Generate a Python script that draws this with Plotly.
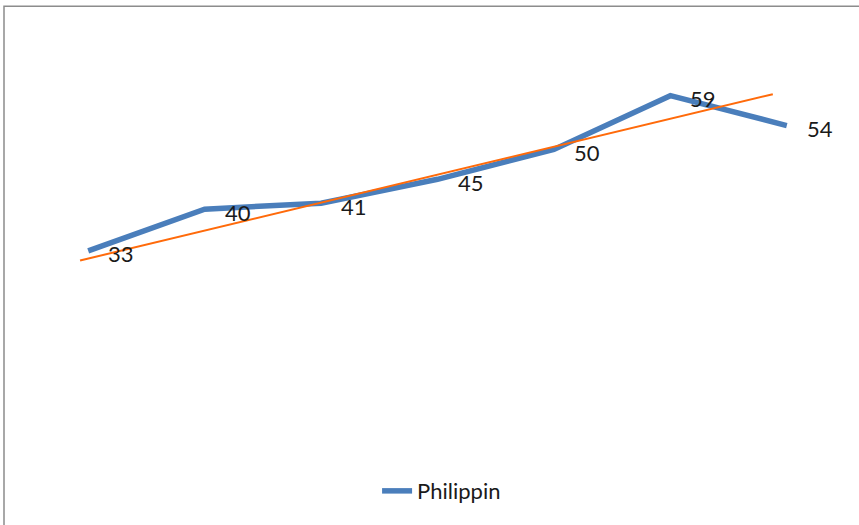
import plotly.graph_objects as go

# Series data
categories = [1, 2, 3, 4, 5, 6, 7]
philippin = [33, 40, 41, 45, 50, 59, 54]

# Linear trend line (start/end positions along the category axis and values)
trend_x = [0.93, 6.88]
trend_y = [31.4, 59.25]

BLUE = "#4a7ebb"
ORANGE = "#ff6a0a"
FONT = "Lato"

fig = go.Figure()

fig.add_trace(go.Scatter(
    x=categories, y=philippin, mode="lines", name="Philippin",
    line=dict(color=BLUE, width=5.5),
    showlegend=True,
))

fig.add_trace(go.Scatter(
    x=trend_x, y=trend_y, mode="lines", name="Linear (Philippin)",
    line=dict(color=ORANGE, width=2),
    showlegend=False,
))

# Data labels to the right of each point
for xv, yv in zip(categories, philippin):
    fig.add_annotation(
        x=xv, y=yv, text=str(yv), showarrow=False,
        xshift=33, yshift=-3,
        font=dict(family=FONT, size=22, color="#1a1a1a"),
    )

# Chart-area border (right and bottom edges fall outside the view)
fig.add_shape(
    type="rect", xref="paper", yref="paper",
    x0=-0.0319, x1=1.15, y0=-0.35, y1=1.057,
    line=dict(color="#8c8c8c", width=1.5),
    fillcolor="rgba(0,0,0,0)",
)

fig.update_layout(
    width=859, height=525,
    margin=dict(l=30, r=14, t=30, b=77),
    paper_bgcolor="white", plot_bgcolor="white",
    xaxis=dict(range=[0.5, 7.5], visible=False, fixedrange=True),
    yaxis=dict(range=[0, 70], visible=False, fixedrange=True),
    legend=dict(
        orientation="h", x=0.505, xanchor="center",
        y=-0.103, yanchor="middle",
        font=dict(family=FONT, size=22, color="#1a1a1a"),
        bgcolor="rgba(0,0,0,0)",
    ),
    font=dict(family=FONT),
)

fig.write_html("out.html")
